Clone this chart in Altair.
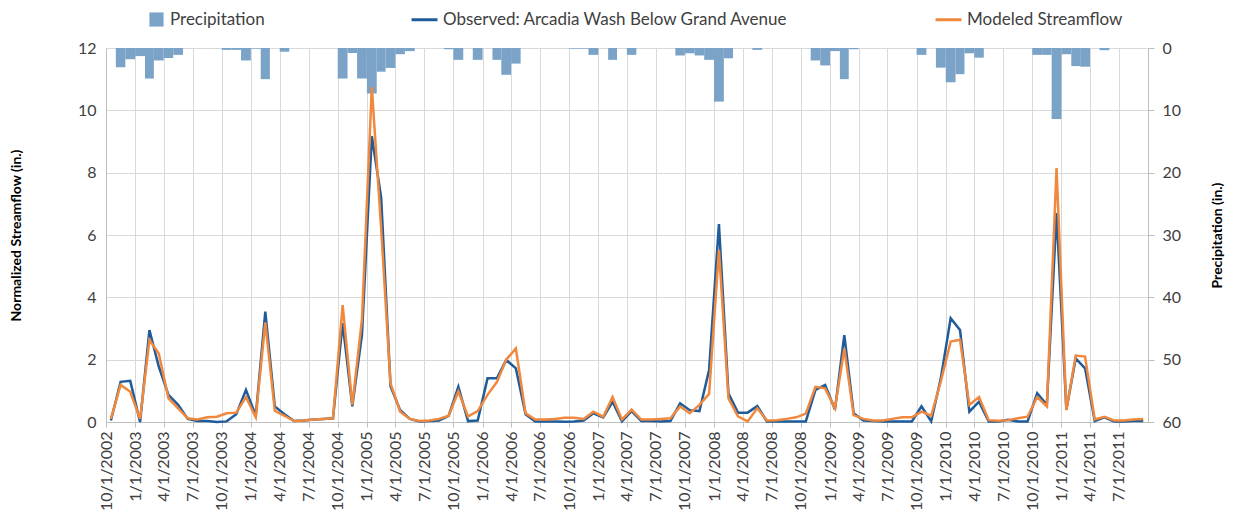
import altair as alt
import pandas as pd

# ---------------- data (monthly, Oct 2002 - Sep 2011) ----------------
start_month = "2002-10-01"
n_months = 108

observed = [
    0.05, 1.29, 1.32, 0.00, 2.95, 1.78, 0.87, 0.55, 0.10, 0.03, 0.03, 0.00,   # Oct02-Sep03
    0.02, 0.25, 1.03, 0.20, 3.54, 0.50, 0.25, 0.03, 0.05, 0.08, 0.10, 0.12,   # Oct03-Sep04
    3.17, 0.50, 2.80, 9.17, 7.20, 1.15, 0.38, 0.10, 0.02, 0.03, 0.05, 0.20,   # Oct04-Sep05
    1.13, 0.03, 0.05, 1.40, 1.40, 1.99, 1.72, 0.25, 0.02, 0.02, 0.02, 0.01,   # Oct05-Sep06
    0.02, 0.05, 0.28, 0.15, 0.65, 0.02, 0.35, 0.03, 0.03, 0.02, 0.03, 0.60,   # Oct06-Sep07
    0.38, 0.35, 1.67, 6.35, 0.92, 0.30, 0.30, 0.51, 0.02, 0.02, 0.02, 0.02,   # Oct07-Sep08
    0.02, 1.03, 1.19, 0.40, 2.79, 0.28, 0.05, 0.03, 0.02, 0.02, 0.02, 0.02,   # Oct08-Sep09
    0.50, 0.02, 1.40, 3.33, 2.95, 0.33, 0.65, 0.02, 0.02, 0.07, 0.02, 0.02,   # Oct09-Sep10
    0.92, 0.55, 6.70, 0.40, 2.04, 1.72, 0.03, 0.15, 0.02, 0.02, 0.03, 0.03,   # Oct10-Sep11
]

modeled = [
    0.10, 1.19, 0.97, 0.10, 2.63, 2.20, 0.76, 0.44, 0.12, 0.08, 0.15, 0.17,
    0.28, 0.30, 0.80, 0.15, 3.20, 0.36, 0.20, 0.03, 0.05, 0.08, 0.10, 0.12,
    3.75, 0.55, 3.30, 10.75, 6.20, 1.24, 0.33, 0.10, 0.03, 0.05, 0.10, 0.20,
    0.98, 0.18, 0.35, 0.87, 1.28, 2.00, 2.36, 0.28, 0.08, 0.08, 0.10, 0.14,
    0.14, 0.10, 0.33, 0.17, 0.80, 0.08, 0.40, 0.08, 0.08, 0.10, 0.12, 0.50,
    0.28, 0.55, 0.90, 5.52, 0.76, 0.18, 0.02, 0.44, 0.05, 0.06, 0.10, 0.15,
    0.27, 1.13, 1.08, 0.44, 2.36, 0.22, 0.10, 0.05, 0.05, 0.10, 0.15, 0.15,
    0.33, 0.20, 1.30, 2.58, 2.64, 0.55, 0.80, 0.06, 0.04, 0.06, 0.12, 0.17,
    0.80, 0.50, 8.15, 0.38, 2.13, 2.10, 0.08, 0.17, 0.05, 0.05, 0.08, 0.10,
]

precipitation = [
    0.0, 3.1, 1.8, 1.3, 4.9, 2.0, 1.6, 1.1, 0.0, 0.0, 0.0, 0.0,
    0.3, 0.3, 2.0, 0.1, 5.0, 0.0, 0.6, 0.0, 0.0, 0.0, 0.0, 0.0,
    4.9, 0.8, 4.9, 7.3, 3.8, 3.2, 1.0, 0.5, 0.0, 0.0, 0.0, 0.2,
    1.9, 0.0, 1.9, 0.0, 1.9, 4.3, 2.5, 0.0, 0.0, 0.0, 0.0, 0.0,
    0.1, 0.1, 1.1, 0.0, 1.9, 0.0, 1.1, 0.0, 0.0, 0.0, 0.0, 1.2,
    0.85, 1.2, 1.9, 8.6, 1.65, 0.0, 0.0, 0.3, 0.0, 0.0, 0.0, 0.0,
    0.0, 2.0, 2.8, 0.5, 5.0, 0.2, 0.0, 0.0, 0.0, 0.0, 0.0, 0.0,
    1.1, 0.0, 3.15, 5.5, 4.2, 0.85, 1.55, 0.0, 0.0, 0.0, 0.0, 0.0,
    1.1, 1.1, 11.4, 1.0, 2.9, 3.0, 0.0, 0.35, 0.0, 0.0, 0.0, 0.0,
]

series_names = ["Precipitation", "Observed: Arcadia Wash Below Grand Avenue", "Modeled Streamflow"]
series_colors = ["#7BA3C8", "#1F5C99", "#F0883D"]
left_ticks = [0, 2, 4, 6, 8, 10, 12]
right_ticks = [0, 10, 20, 30, 40, 50, 60]

# ---------------- tables ----------------
starts = pd.date_range(start_month, periods=n_months + 1, freq="MS")
mids = starts[:-1] + (starts[1:] - starts[:-1]) / 2
fmt = "%Y-%m-%dT%H:%M:%S"

bars_df = pd.DataFrame({
    "start": starts[:-1].strftime(fmt),
    "end": starts[1:].strftime(fmt),
    "precip": precipitation,
    "series": series_names[0],
})
obs_df = pd.DataFrame({"mid": mids.strftime(fmt), "value": observed, "series": series_names[1]})
mod_df = pd.DataFrame({"mid": mids.strftime(fmt), "value": modeled, "series": series_names[2]})

def dt(ts):
    return alt.DateTime(year=ts.year, month=ts.month, date=1)

x_domain = [dt(starts[0]), dt(starts[-1])]
x_ticks = [dt(t) for t in starts[:-1][::3]]

FONT = "Lato"
GRID = "#D9D9D9"
AXIS_LINE = "#BFBFBF"
TEXT = "#404040"

x_axis = alt.Axis(
    values=x_ticks, format="%-m/%-d/%Y", labelAngle=270, title=None,
    grid=True, gridColor=GRID, domainColor=AXIS_LINE, tickColor=AXIS_LINE,
    tickSize=5, labelPadding=4,
)
x_scale = alt.Scale(domain=x_domain)

bars = alt.Chart(bars_df).mark_bar(strokeWidth=0).encode(
    x=alt.X("start:T", scale=x_scale, axis=x_axis),
    x2="end:T",
    y=alt.Y(
        "precip:Q",
        scale=alt.Scale(domain=[0, 60], reverse=True),
        axis=alt.Axis(
            orient="right", values=right_ticks, title="Precipitation (in.)",
            grid=False, domainColor=AXIS_LINE, tickColor=AXIS_LINE, tickSize=6,
            labelPadding=8, titleAngle=270, titleBaseline="top", titlePadding=30,
        ),
    ),
    y2=alt.datum(0),
    color=alt.Color(
        "series:N",
        scale=alt.Scale(domain=series_names[:1], range=series_colors[:1]),
        legend=alt.Legend(
            orient="none", legendX=42, legendY=-37, title=None,
            symbolType="square", symbolSize=200, symbolStrokeWidth=0,
            labelOffset=5,
        ),
    ),
)

line_legend = alt.Legend(
    orient="none", legendX=304, legendY=-43, title=None, direction="horizontal",
    columns=2, columnPadding=140, symbolType="stroke", symbolSize=676,
    symbolStrokeWidth=3, labelOffset=4, labelLimit=500,
)
line_color = alt.Color(
    "series:N",
    scale=alt.Scale(domain=series_names[1:], range=series_colors[1:]),
    legend=line_legend,
)
y_left = alt.Y(
    "value:Q",
    scale=alt.Scale(domain=[0, 12]),
    axis=alt.Axis(
        orient="left", values=left_ticks, title="Normalized Streamflow (in.)",
        grid=True, gridColor=GRID, domainColor=AXIS_LINE, ticks=False,
        labelPadding=10, titlePadding=54,
    ),
)

obs_line = alt.Chart(obs_df).mark_line(strokeWidth=2.5).encode(
    x=alt.X("mid:T", scale=x_scale, axis=x_axis), y=y_left, color=line_color
)
mod_line = alt.Chart(mod_df).mark_line(strokeWidth=2.5).encode(
    x=alt.X("mid:T", scale=x_scale, axis=x_axis), y=y_left, color=line_color
)
lines = alt.layer(obs_line, mod_line)

chart = (
    alt.layer(bars, lines)
    .resolve_scale(y="independent", color="independent")
    .properties(
        width=1042, height=374,
        autosize=alt.AutoSizeParams(type="none"),
        padding={"left": 98, "top": 40, "right": 80, "bottom": 88},
    )
    .configure_view(stroke=None)
    .configure_axis(
        labelFont=FONT, labelFontSize=16, labelColor=TEXT,
        titleFont=FONT, titleFontSize=14, titleFontWeight="bold", titleColor="#000000",
    )
    .configure_legend(labelFont=FONT, labelFontSize=17, labelColor=TEXT)
)

chart.save("out.html", embed_options={"renderer": "svg", "actions": False})
